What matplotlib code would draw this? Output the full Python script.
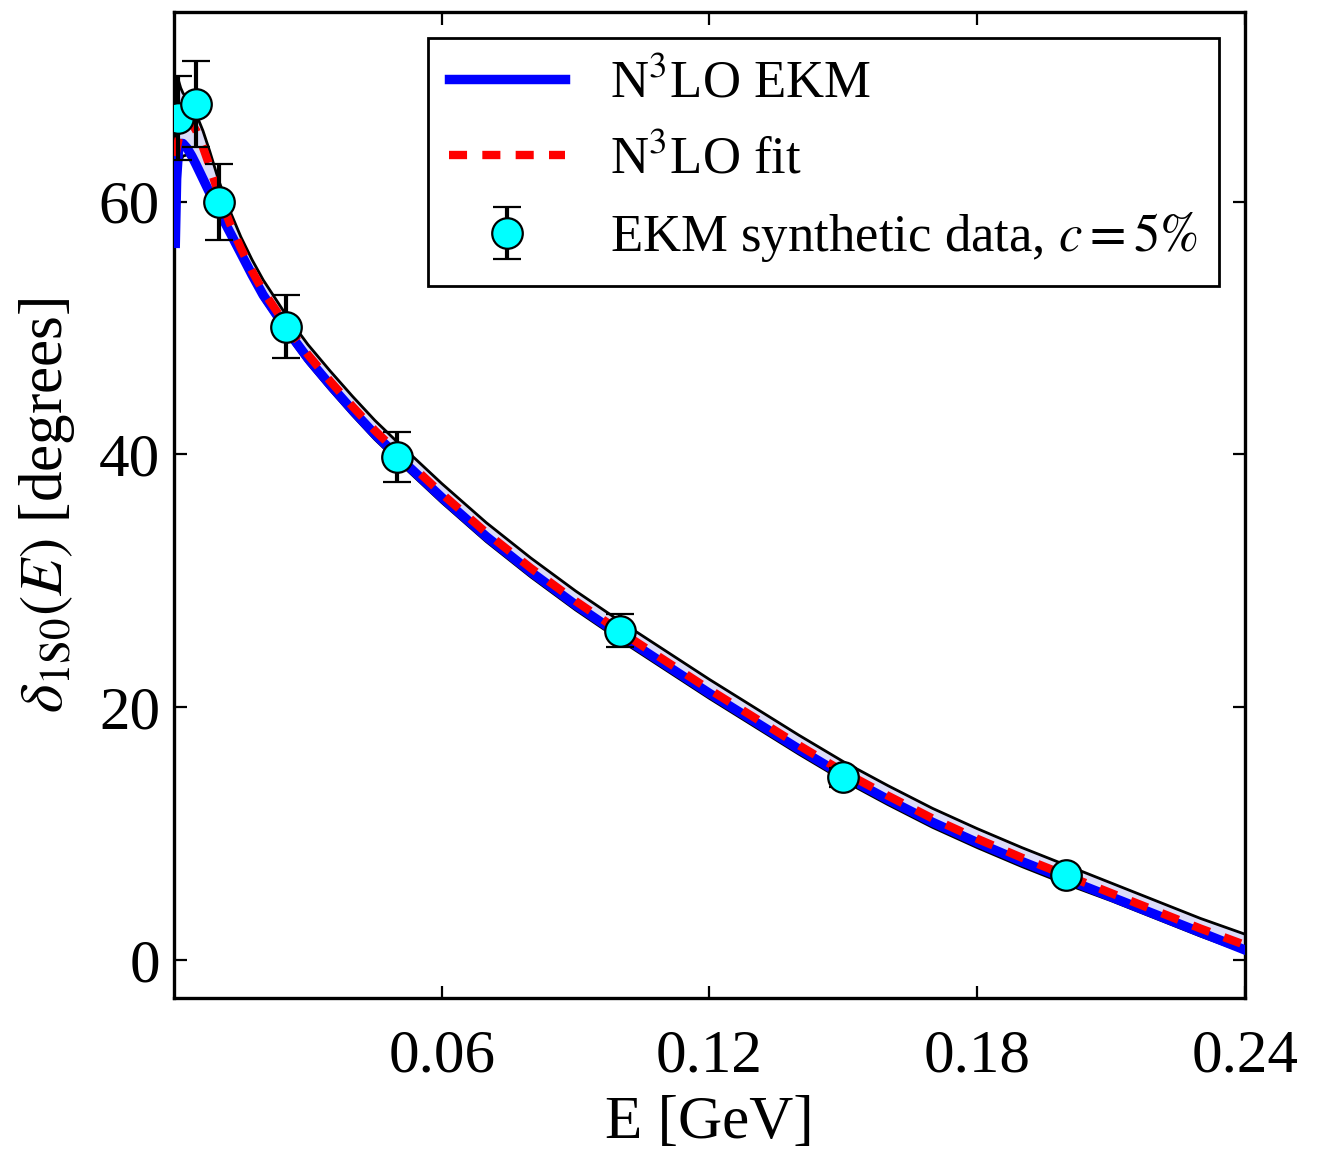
import matplotlib
matplotlib.use("Agg")
import matplotlib.pyplot as plt

plt.rcParams['font.family'] = ['Liberation Serif', 'DejaVu Serif']
plt.rcParams['mathtext.fontset'] = 'stix'
plt.rcParams['lines.scale_dashes'] = False

# energy grid for the curves [GeV]
E_grid = [0.0003, 0.0006, 0.001, 0.0015, 0.002, 0.003, 0.004, 0.005, 0.0065, 0.008,
          0.01, 0.0125, 0.015, 0.0175, 0.02, 0.025, 0.03, 0.035, 0.04, 0.045,
          0.05, 0.06, 0.07, 0.08, 0.09, 0.10, 0.11, 0.12, 0.13, 0.14,
          0.15, 0.16, 0.17, 0.18, 0.19, 0.20, 0.21, 0.22, 0.23, 0.24]

# N3LO EKM phase shift [deg]
delta_ekm = [56.7, 61.8, 64.0, 64.6, 64.6, 64.2, 63.6, 62.9, 61.8, 60.7,
             59.3, 57.6, 55.9, 54.2, 52.6, 50.0, 47.6, 45.5, 43.5, 41.6,
             39.9, 36.6, 33.5, 30.7, 28.1, 25.7, 23.4, 21.1, 18.9, 16.7,
             14.6, 12.7, 10.9, 9.3, 7.8, 6.4, 5.0, 3.6, 2.2, 0.8]

# N3LO fit
delta_fit = [63.6, 64.2, 64.9, 65.5, 65.9, 66.3, 66.2, 65.6, 64.3, 62.8,
             60.6, 58.3, 56.3, 54.5, 52.9, 50.3, 47.9, 45.8, 43.8, 41.9,
             40.2, 36.9, 33.8, 31.0, 28.4, 26.0, 23.7, 21.4, 19.2, 17.0,
             14.9, 13.0, 11.2, 9.6, 8.1, 6.7, 5.3, 3.9, 2.5, 1.2]

# fit uncertainty band
band_lo = [60.5, 61.5, 62.5, 63.2, 63.6, 63.7, 63.2, 62.5, 61.4, 60.3,
           58.9, 57.2, 55.5, 53.8, 52.2, 49.6, 47.2, 45.1, 43.1, 41.2,
           39.5, 36.2, 33.1, 30.3, 27.7, 25.3, 23.0, 20.7, 18.5, 16.3,
           14.2, 12.3, 10.5, 8.9, 7.4, 6.0, 4.7, 3.3, 1.9, 0.6]
band_hi = [69.6, 69.8, 69.6, 69.0, 68.6, 68.1, 67.6, 66.9, 65.6, 64.0,
           61.7, 59.3, 57.2, 55.4, 53.8, 51.1, 48.7, 46.6, 44.6, 42.7,
           41.0, 37.7, 34.6, 31.8, 29.2, 26.8, 24.5, 22.2, 20.0, 17.8,
           15.7, 13.8, 12.0, 10.4, 8.9, 7.5, 6.1, 4.7, 3.3, 2.05]

# synthetic data points
E_data = [0.001, 0.005, 0.01, 0.025, 0.05, 0.10, 0.15, 0.20]
delta_data = [66.6, 67.7, 60.0, 50.1, 39.8, 26.05, 14.45, 6.7]
delta_err = [3.33, 3.39, 3.0, 2.5, 1.99, 1.3, 0.72, 0.34]

fig = plt.figure(figsize=(6.635, 5.765), dpi=200)
ax = fig.add_axes([0.1311, 0.1344, 0.8071, 0.8552])

ax.fill_between(E_grid, band_lo, band_hi, facecolor='#dcdcf8', edgecolor='none', zorder=1)
ax.plot(E_grid, band_lo, color='black', lw=1.0, zorder=2)
ax.plot(E_grid, band_hi, color='black', lw=1.0, zorder=2)
ax.plot(E_grid, delta_ekm, color='blue', lw=3.4, label=r'N$^3$LO EKM', zorder=3)
ax.plot(E_grid, delta_fit, color='red', lw=3.0, linestyle='--', dashes=(6.5, 5.5),
        label=r'N$^3$LO fit', zorder=4)
ax.errorbar(E_data, delta_data, yerr=delta_err, fmt='o', color='black',
            markerfacecolor='cyan', markeredgecolor='black', markeredgewidth=0.8,
            markersize=11, elinewidth=1.5, capsize=5, capthick=1.5,
            label=r'EKM synthetic data, $c=5\%$', zorder=5)

ax.set_xlim(0, 0.24)
ax.set_ylim(-3, 75)
ax.set_xticks([0.06, 0.12, 0.18, 0.24])
ax.set_xticklabels(['0.06', '0.12', '0.18', '0.24'])
ax.set_yticks([0, 20, 40, 60])
ax.tick_params(direction='in', top=True, right=True, length=4.5, width=0.8,
               labelsize=22)
ax.tick_params(axis='x', pad=11)
ax.tick_params(axis='y', pad=5)
for sp in ax.spines.values():
    sp.set_linewidth(1.2)

ax.set_xlabel('E [GeV]', fontsize=22, labelpad=4)
ax.set_ylabel(r'$\delta_{\rm 1S0}(E)$ [degrees]', fontsize=22, labelpad=8)

leg = ax.legend(loc='upper right', fontsize=19, numpoints=1, fancybox=False,
                framealpha=1, edgecolor='black', handlelength=2.2,
                handletextpad=0.85)
leg.get_frame().set_linewidth(1.0)

fig.savefig('out.png', dpi=200)
